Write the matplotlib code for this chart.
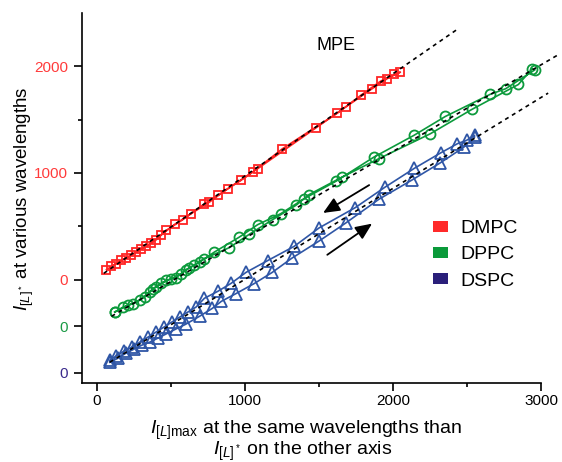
import matplotlib
matplotlib.use("Agg")
import matplotlib.pyplot as plt
from matplotlib.patches import Patch
import numpy as np

plt.rcParams['font.family'] = ['Liberation Sans', 'DejaVu Sans']
plt.rcParams['mathtext.fontset'] = 'custom'
plt.rcParams['mathtext.rm'] = 'Liberation Sans'
plt.rcParams['mathtext.it'] = 'Liberation Sans:italic'
plt.rcParams['mathtext.bf'] = 'Liberation Sans:bold'

# ---------------- data ----------------
# each series = forward branch then return branch
red_x = [67, 134, 202, 269, 336, 404, 471, 582, 728, 818, 975, 1087, 1479, 1681, 1860, 1961, 2051,
         2006, 1917, 1782, 1625, 1255, 1053, 885, 762, 639, 527, 437, 370, 303, 235, 168, 101]
red_y = [94, 150, 206, 259, 312, 375, 462, 562, 712, 790, 931, 1040, 1421, 1618, 1790, 1884, 1946,
         1924, 1861, 1727, 1561, 1228, 1008, 853, 727, 619, 518, 420, 343, 291, 228, 181, 125]

green_x = [123, 213, 291, 358, 403, 471, 538, 605, 661, 728, 896, 1031, 1188, 1345, 1434, 1658,
           1905, 2253, 2533, 2847, 2941,
           2959, 2761, 2656, 2354, 2141, 1872, 1614, 1401, 1244, 1087, 964, 796, 695, 627, 572,
           504, 437, 381, 325, 246, 179, 123]
green_y = [134, 197, 244, 322, 369, 431, 457, 532, 572, 635, 738, 863, 1000, 1134, 1235, 1400,
           1572, 1806, 2034, 2268, 2416,
           2406, 2228, 2175, 1968, 1790, 1587, 1359, 1197, 1057, 953, 837, 697, 603, 550, 494,
           447, 406, 354, 275, 213, 181, 134]

blue_x = [89, 143, 197, 251, 305, 358, 412, 466, 533, 601, 695, 782, 843, 941, 1064, 1186, 1317,
          1502, 1681, 1905, 2130, 2320, 2477, 2551,
          2551, 2497, 2436, 2322, 2144, 1948, 1746, 1502, 1334, 1154, 1009, 908, 818, 728, 672,
          614, 560, 506, 453, 399, 345, 291, 237, 184, 130, 89]
blue_y = [97, 134, 181, 219, 257, 285, 322, 360, 407, 453, 528, 603, 669, 741, 835, 940, 1072,
          1234, 1402, 1625, 1807, 1967, 2112, 2206,
          2224, 2178, 2147, 2060, 1915, 1740, 1547, 1357, 1184, 1050, 940, 837, 762, 697, 615,
          566, 519, 472, 425, 378, 331, 284, 237, 200, 153, 116]

# dashed reference lines (end points)
red_fit_x, red_fit_y = [49, 2443], [59, 2355]
green_fit_x, green_fit_y = [101, 3120], [94, 2550]
blue_fit_x, blue_fit_y = [89, 3048], [97, 2621]

# vertical offsets of the stacked curves
offsets = {'DMPC': 0, 'DPPC': -438, 'DSPC': -872}

names = ['DMPC', 'DPPC', 'DSPC']
line_colors = ['#ff2424', '#0c9a3c', '#2f56a6']
legend_colors = ['#ff2a2a', '#0a9a3a', '#2a1f7a']
tick_colors = ['#ff3b3b', '#ff3b3b', '#ff3b3b', '#1a9a45', '#3a2a8c']

fig = plt.figure(figsize=(5.62, 4.62), dpi=100)
ax = fig.add_axes([0.1454, 0.172, 0.8173, 0.7998])

series = [(red_x, red_y, red_fit_x, red_fit_y, 's', 6.0),
          (green_x, green_y, green_fit_x, green_fit_y, 'o', 7.2),
          (blue_x, blue_y, blue_fit_x, blue_fit_y, '^', 8.0)]

for (xs, ys, fx, fy, mk, ms), name, col in zip(series, names, line_colors):
    off = offsets[name]
    ax.plot(xs, np.array(ys) + off, color=col, lw=1.2, marker=mk, ms=ms,
            mfc='none', mec=col, mew=1.3, zorder=2)
    ax.plot(fx, np.array(fy) + off, color='k', lw=1.2, ls=(0, (2.4, 2.4)),
            clip_on=False, zorder=3)

# arrows showing the loop direction
arrow_style = dict(arrowstyle='-|>,head_length=0.5,head_width=0.22', color='k',
                   lw=1.3, mutation_scale=20)
ax.annotate('', xy=(1513, 612), xytext=(1856, 900), arrowprops=arrow_style)
ax.annotate('', xy=(1875, 540), xytext=(1542, 218), arrowprops=arrow_style)

ax.set_xlim(-100, 3000)
ax.set_ylim(-965, 2500)

ax.set_xticks([0, 1000, 2000, 3000])
ax.set_xticks([500, 1500, 2500], minor=True)
ax.set_yticks([2000, 1000, 0, offsets['DPPC'], offsets['DSPC']])
ax.set_yticklabels(['2000', '1000', '0', '0', '0'])
ax.set_yticks([1500, 500], minor=True)
for lab, c in zip(ax.get_yticklabels(), tick_colors):
    lab.set_color(c)

ax.tick_params(which='major', direction='out', length=5.5, width=1.2, labelsize=11)
ax.tick_params(which='minor', direction='out', length=2.8, width=1.2)
ax.tick_params(axis='y', pad=4.5)
ax.tick_params(axis='x', pad=3)

for s in ['top', 'right']:
    ax.spines[s].set_visible(False)
for s in ['left', 'bottom']:
    ax.spines[s].set_linewidth(1.2)

ax.text(0.5537, 0.913, 'MPE', transform=ax.transAxes, ha='center', va='center', fontsize=13)

fig.text(24 / 562, 1 - 199 / 462, r'$I_{[L]^*}$ at various wavelengths',
         rotation=90, ha='center', va='center', fontsize=13.5)
fig.text(306 / 562, 1 - 434 / 462, r'$I_{[L]\mathrm{max}}$ at the same wavelengths than',
         ha='center', va='baseline', fontsize=14)
fig.text(303 / 562, 1 - 455 / 462, r'$I_{[L]^*}$ on the other axis',
         ha='center', va='baseline', fontsize=14)

handles = [Patch(facecolor=c, edgecolor='none') for c in legend_colors]
ax.legend(handles, names, loc='upper left', bbox_to_anchor=(433.3 / 562, 1 - 220 / 462),
          bbox_transform=fig.transFigure, frameon=False, fontsize=14,
          handlelength=0.75, handleheight=0.48, handletextpad=0.65, labelspacing=0.48,
          borderaxespad=0, borderpad=0)

fig.savefig('out.png', dpi=100)
